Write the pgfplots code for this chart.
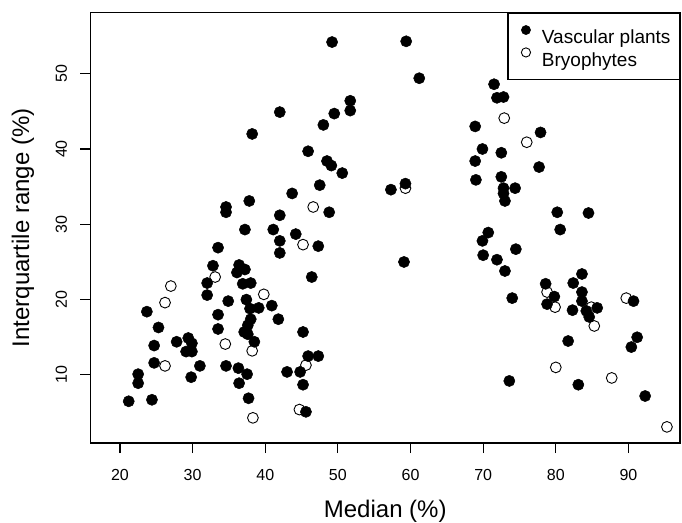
\documentclass[border=0pt]{standalone}
\usepackage{fontspec}
\setmainfont{Liberation Sans}
\usepackage{pgfplots}
\pgfplotsset{compat=1.18}

% legend swatch: a single dot, vertically centred on the capital height
\pgfplotsset{
  dotlegend/.style={
    legend image code/.code={
      \path[draw=none, fill=none] (-3bp,0bp) rectangle (12bp,13.6bp);
      \draw[##1, mark size=4.6bp] plot coordinates {(6bp,6.8bp)};
    }
  }
}

\begin{document}
\begin{tikzpicture}
\begin{axis}[
  scale only axis,
  width=589.5bp, height=430.3bp,
  xmin=15.94, xmax=97.1, ymin=0.96, ymax=58.1,
  axis line style={line width=1.1bp},
  every tick/.style={black, line width=1.1bp},
  tick align=outside, major tick length=10bp,
  xtick pos=left, ytick pos=left,
  xtick={20,30,...,90}, ytick={10,20,...,50},
  /pgf/number format/assume math mode=true,
  tick label style={font=\fontsize{16bp}{19bp}\selectfont},
  xticklabel style={anchor=base}, xticklabel shift=27bp,
  yticklabel style={rotate=90, anchor=base}, yticklabel shift=13.5bp,
  every axis x label/.style={at={(axis description cs:0.5,-0.172)}, anchor=base,
    font=\fontsize{24bp}{28bp}\selectfont},
  every axis y label/.style={at={(axis description cs:-0.1043,0.5)}, rotate=90, anchor=base,
    font=\fontsize{24bp}{28bp}\selectfont},
  xlabel={Median (\%)},
  ylabel={Interquartile range (\%)},
  legend cell align=left,
  legend style={at={(1,1)}, anchor=north east, draw=black, line width=1.1bp,
    font=\fontsize{19bp}{22bp}\selectfont,
    inner xsep=9bp, inner ysep=10bp, row sep=-1.3bp, column sep=10bp,
    nodes={inner sep=0bp, text height=17bp, text depth=3.2bp}},
]
% vascular plants
\addplot[only marks, mark=*, mark size=5.6bp, black,
  mark options={fill=black, line width=0.5bp}, dotlegend] table {
x y
21.2 6.5
22.5 10.1
22.5 8.9
23.7 18.4
24.4 6.7
24.7 13.9
24.7 11.6
25.3 16.3
27.8 14.4
29.4 14.9
29.9 14.2
29.1 13.1
29.9 13.1
31.0 11.2
29.8 9.7
32.0 22.2
32.0 20.6
32.8 24.5
33.5 26.9
33.5 18.0
33.5 16.1
34.6 32.3
34.6 31.6
34.9 19.8
34.6 11.2
36.1 23.6
36.4 24.6
37.2 24.0
36.9 22.1
38.0 22.2
37.4 20.0
37.9 18.8
39.1 18.9
38.0 17.4
37.6 16.6
37.1 15.7
37.6 15.4
38.5 14.4
36.3 10.9
37.5 10.1
36.4 8.9
37.7 6.9
37.2 29.3
37.8 33.1
38.2 42.0
40.9 19.2
41.8 17.4
41.1 29.3
42.0 31.2
42.0 27.8
42.0 26.2
42.0 44.9
43.0 10.4
43.7 34.1
44.2 28.7
44.8 10.4
45.2 15.7
45.2 8.7
45.6 5.1
45.9 39.7
45.9 12.5
46.4 23.0
47.3 12.5
47.3 27.1
47.5 35.2
48.0 43.2
48.5 38.4
49.1 37.8
48.8 31.6
49.2 54.2
49.5 44.7
50.6 36.8
51.7 46.4
51.7 45.1
57.3 34.6
59.3 35.4
59.4 54.3
59.1 25.0
61.2 49.4
68.9 43.0
68.9 38.4
69.0 35.9
69.9 40.0
69.9 27.8
70.7 28.9
70.0 25.9
71.5 48.6
71.9 46.8
72.8 46.9
72.5 39.5
72.5 36.3
72.8 34.8
72.8 34.1
73.0 33.1
74.4 34.8
71.9 25.3
73.0 23.8
74.5 26.7
74.0 20.2
73.6 9.2
77.9 42.2
77.7 37.6
80.2 31.6
80.6 29.3
84.5 31.5
78.6 22.1
78.8 19.4
79.8 20.4
81.7 14.5
82.3 18.6
82.4 22.2
83.6 23.4
83.6 21.0
83.6 19.8
84.2 18.5
84.6 17.7
85.7 18.9
83.1 8.7
90.7 19.8
91.2 15.0
90.4 13.7
92.3 7.2
};
\addlegendentry{Vascular plants}
% bryophytes
\addplot[only marks, mark=o, mark size=5.4bp, black,
  mark options={line width=0.9bp}, dotlegend] table {
x y
26.2 19.6
27.0 21.8
26.2 11.2
33.1 23.0
34.5 14.1
38.2 13.2
38.3 4.3
39.8 20.7
44.7 5.4
45.2 27.3
45.6 11.3
46.6 32.3
59.3 34.8
72.9 44.1
76.0 40.9
78.8 21.0
79.9 19.0
80.0 11.0
84.9 19.0
85.3 16.5
87.7 9.6
89.7 20.2
95.3 3.1
};
\addlegendentry{Bryophytes}
\end{axis}
% page extent around the plotting box
\path (current axis.south west) ++(-90.5bp,-80bp) coordinate (pageSW);
\path (current axis.north east) ++(2bp,12.7bp) coordinate (pageNE);
\pgfresetboundingbox
\path[use as bounding box] (pageSW) rectangle (pageNE);
\end{tikzpicture}
\end{document}
